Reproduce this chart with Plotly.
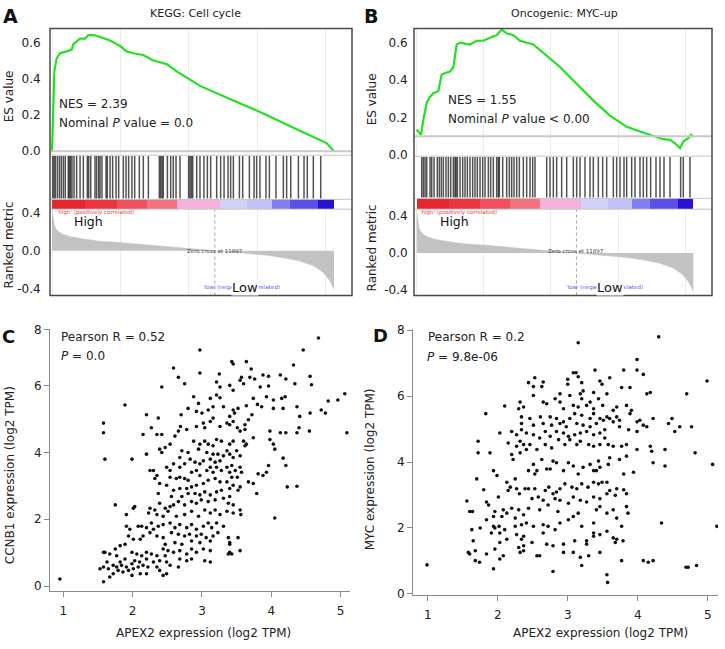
import plotly.graph_objects as go

W, H = 725, 649

# ---------------- GSEA data ----------------
n_genes = 20600
zero_cross = 11897

metric_rank = [0, 50, 170, 340, 700, 1300, 2300, 3500, 4700, 5950, 7150, 8400, 9600, 10800,
               11897, 13250, 14450, 15700, 16900, 18100, 19100, 19800, 20300, 20550, 20600]
metric_val = [0.42, 0.39, 0.27, 0.22, 0.18, 0.15, 0.125, 0.10, 0.09, 0.076, 0.063, 0.045, 0.028, 0.014,
              0.0, -0.014, -0.028, -0.049, -0.076, -0.11, -0.16, -0.23, -0.32, -0.41, -0.41]

es_rank_a = [0, 100, 170, 340, 580, 1070, 1440, 1560, 2050, 2410, 2650, 3020, 3500, 4240, 4970, 5450,
             5940, 6670, 7400, 7890, 8380, 9110, 10810, 13250, 15680, 17630, 19090, 19580, 20060, 20600]
es_val_a = [0.0, 0.26, 0.44, 0.51, 0.54, 0.55, 0.56, 0.59, 0.62, 0.62, 0.64, 0.64, 0.63, 0.61, 0.58, 0.55,
            0.54, 0.53, 0.50, 0.49, 0.48, 0.44, 0.36, 0.28, 0.20, 0.13, 0.08, 0.06, 0.045, 0.0]

es_rank_b = [0, 120, 320, 500, 750, 990, 1240, 1610, 1860, 2230, 2480, 2730, 2980, 3230, 3970, 4470,
             4960, 5590, 5960, 6330, 6700, 7200, 7690, 8690, 9680, 10670, 11910, 13160, 14400, 15640,
             16630, 17620, 18370, 18860, 19240, 19610, 19860, 20230, 20430, 20600]
es_val_b = [0.134, 0.125, 0.107, 0.19, 0.28, 0.31, 0.33, 0.34, 0.43, 0.44, 0.445, 0.47, 0.59, 0.60, 0.59, 0.61,
            0.61, 0.63, 0.64, 0.67, 0.65, 0.64, 0.61, 0.59, 0.53, 0.47, 0.38, 0.29, 0.21, 0.15,
            0.125, 0.10, 0.084, 0.08, 0.062, 0.036, 0.071, 0.089, 0.107, 0.098]
es_baseline_a = 0.0
es_baseline_b = 0.1

hits_a = [50, 150, 240, 390, 540, 680, 830, 970, 1190, 1270, 1360, 1460, 1610, 1800, 2050, 2290, 2580,
          2680, 2830, 3140, 3260, 3410, 3510, 3650, 3950, 4040, 4240, 4430, 4680, 4870, 5210, 5410, 5600,
          5840, 6040, 6380, 6670, 7040, 7840, 7940, 8040, 8130, 8430, 8670, 8860, 9060, 9350, 9980,
          10080, 10180, 10280, 10570, 10810, 11100, 11350, 11590, 12030, 12320, 12570, 12860, 13050,
          13250, 13690, 13930, 14420, 14760, 14950, 15190, 15630, 15880, 16360, 16900, 17140, 17440,
          18000, 18410, 18650, 19090, 19630]
hits_b = [372, 496, 621, 745, 993, 1117, 1291, 1539, 1688, 1837, 1986, 2184, 2358, 2532, 2730, 2854,
          2929, 3028, 3227, 3425, 3599, 3773, 3971, 4170, 4344, 4517, 4716, 4914, 5088, 5336, 5510,
          5709, 5957, 6081, 6155, 6404, 6701, 6900, 7074, 7247, 7446, 7645, 7942, 8191, 8439, 8637,
          8811, 9680, 9928, 10176, 10424, 10797, 11169, 11665, 11914, 12162, 12534, 12906, 13155,
          13527, 13850, 14148, 14644, 14892, 15140, 15438, 15637, 16009, 16257, 16629, 16878, 17126,
          17424, 17821, 18119, 18416, 18863, 19657, 19856, 20352]

cbar_edges = [0, 2400, 4750, 6950, 9150, 12250, 14250, 16050, 17400, 19450, 20600]
cbar_colors = ["#e5262f", "#ea3440", "#ee5060", "#f27280", "#f5b2dc", "#d2d2f8", "#c2c2f6",
               "#8080f0", "#5a4fe6", "#2a10d2"]

# ---------------- scatter data ----------------
c_x = [4.68, 2.97, 4.46, 4.32, 3.43, 3.45, 3.64, 3.71, 2.59, 2.97, 3.25, 2.66, 3.69, 3.88, 3.96, 4.13, 4.56,
       3.57, 3.76, 4.58, 4.34, 4.21, 3.96, 3.84, 3.40, 3.21, 3.26, 2.75, 2.42, 3.60, 3.55,
       2.88, 5.06, 4.82, 4.96, 3.12, 3.21, 3.26, 3.45, 3.74, 3.93, 4.03, 4.15, 4.20, 4.37, 4.72, 4.78,
       4.56, 4.41, 4.17, 4.03, 3.86, 3.80, 3.64, 3.52, 3.45, 3.31, 3.16, 3.09, 2.95, 2.80, 3.00, 2.92,
       2.70, 2.20, 1.89, 1.58, 1.58, 2.37, 2.35, 2.42, 2.15, 2.27, 2.61, 2.66, 2.69, 2.78, 2.92, 3.02,
       3.04, 3.12, 3.16, 3.26, 3.36, 3.40, 3.45, 3.51, 3.55, 3.62, 3.62, 3.67, 3.72, 3.47, 3.40, 3.74,
       3.60, 3.64, 3.98, 3.98, 4.03, 4.13, 4.21, 4.37, 4.40, 4.55, 4.05, 4.17, 4.21, 4.23, 4.37, 4.05,
       3.96, 3.93, 3.88, 3.81, 3.74, 3.79, 3.67, 3.62, 3.45, 3.40, 3.36, 3.28, 3.21, 3.16, 3.09, 3.04,
       2.97, 2.95, 2.88, 2.80, 2.71, 2.68, 2.54, 2.47, 2.39, 2.42, 2.20, 1.99, 1.60, 1.75, 3.07, 3.16,
       3.23, 3.31, 3.40, 3.50, 3.45, 3.55, 3.26, 3.19, 3.12, 3.02, 2.97, 2.90, 2.83, 2.75, 2.68, 2.59,
       2.54, 2.49, 2.30, 2.35, 2.32, 2.25, 2.39, 2.37, 2.49, 2.54, 2.63, 2.68, 2.75, 2.80, 2.85, 2.92,
       2.97, 3.07, 3.12, 3.16, 3.21, 3.28, 3.36, 3.43, 3.48, 3.40, 3.55, 3.57, 3.51, 3.43, 3.36, 3.26,
       3.19, 3.09, 3.02, 2.92, 2.85, 2.78, 2.68, 2.59, 2.56, 2.71, 2.80, 2.90, 2.97, 3.04, 3.12, 3.21,
       3.28, 3.40, 3.45, 3.52, 3.55, 3.40, 3.31, 3.19, 3.09, 2.99, 2.92, 2.85, 2.75, 2.66, 2.59, 2.54,
       2.47, 2.39, 2.32, 2.25, 2.01, 2.03, 2.23, 2.35, 2.44, 2.51, 2.63, 2.75, 2.85, 2.95, 3.04, 3.12,
       3.19, 3.26, 3.36, 3.45, 3.55, 3.56, 3.45, 3.38, 1.91, 1.91, 1.96, 2.08, 2.13, 2.20, 2.27, 2.30,
       2.37, 2.44, 2.54, 2.61, 2.68, 2.78, 2.85, 2.92, 3.02, 3.09, 3.14, 3.21, 3.31, 2.56, 2.66, 2.75,
       2.82, 2.92, 2.99, 3.06, 3.16, 3.23, 3.52, 3.40, 3.38, 3.12, 2.97, 2.85, 2.71, 2.61, 2.44, 2.47,
       2.35, 2.25, 2.15, 2.11, 2.01, 1.94, 1.89, 1.82, 1.75, 1.67, 1.60, 1.58, 1.77, 1.89, 1.82, 1.99,
       2.06, 2.13, 2.03, 2.10, 2.20, 2.20, 2.27, 2.35, 2.30, 2.39, 2.47, 2.49, 2.44, 2.51, 2.59, 2.68,
       2.78, 2.85, 2.92, 3.02, 3.12, 2.68, 2.78, 2.85, 2.54, 2.66, 3.04, 3.12, 3.40, 3.40, 3.38, 3.43,
       3.55, 1.63, 1.58, 1.65, 1.53, 1.72, 1.77, 1.84, 1.91, 1.99, 2.01, 2.08, 2.15, 2.22, 2.11, 2.20,
       2.35, 2.39, 2.44, 2.49, 1.94, 1.86, 1.79, 1.72, 1.58, 0.95, 1.99, 1.67, 5.09]
c_y = [7.43, 7.07, 7.07, 6.62, 6.72, 6.65, 6.72, 6.50, 6.53, 6.38, 6.35, 6.25, 6.25, 6.32, 6.28, 6.32, 6.28,
       6.25, 6.20, 6.03, 6.06, 6.20, 5.99, 5.96, 6.01, 6.11, 5.96, 6.06, 5.96, 6.06, 6.16,
       5.67, 5.76, 5.54, 5.57, 5.62, 5.72, 5.64, 5.86, 5.62, 5.67, 5.57, 5.62, 5.67, 5.37, 5.27, 5.18,
       5.18, 5.08, 5.32, 5.32, 5.37, 5.44, 5.40, 5.32, 5.27, 5.37, 5.37, 5.27, 5.47, 5.32, 5.18, 5.23,
       5.13, 5.13, 5.42, 4.88, 4.59, 5.03, 4.54, 4.54, 4.54, 4.74, 4.49, 4.64, 4.78, 4.69, 4.78, 4.88,
       4.74, 4.93, 5.03, 4.78, 4.88, 4.83, 4.93, 4.74, 4.64, 4.69, 4.83, 4.98, 5.13, 5.18, 5.08, 4.44,
       4.34, 4.25, 4.64, 4.39, 4.25, 4.59, 4.59, 4.59, 4.74, 4.64, 4.10, 3.83, 3.61, 2.97, 2.99, 2.04,
       3.61, 3.41, 3.31, 3.36, 3.07, 2.77, 3.12, 4.20, 4.34, 4.25, 4.05, 4.34, 4.39, 4.20, 4.25, 4.34,
       4.25, 4.10, 4.34, 4.00, 4.05, 3.85, 4.25, 4.15, 4.10, 4.00, 3.95, 3.80, 3.80, 2.43, 4.00, 3.95,
       3.95, 3.90, 3.95, 4.05, 3.85, 3.90, 3.75, 3.71, 3.80, 3.75, 3.66, 3.71, 3.80, 3.66, 3.56, 3.66,
       3.46, 3.56, 3.46, 3.31, 3.22, 3.46, 3.07, 2.77, 3.02, 3.26, 3.22, 3.26, 3.22, 3.17, 3.41, 3.46,
       3.31, 3.46, 3.56, 3.41, 3.56, 3.46, 3.56, 3.61, 3.46, 3.41, 3.56, 3.41, 3.26, 3.26, 3.12, 3.12,
       3.22, 3.17, 3.07, 3.02, 2.97, 2.92, 2.92, 2.87, 2.68, 2.68, 2.77, 2.77, 2.73, 2.82, 2.73, 2.82,
       2.87, 2.92, 3.02, 2.87, 2.97, 2.68, 2.63, 2.58, 2.53, 2.58, 2.48, 2.53, 2.43, 2.53, 2.43, 2.38,
       2.33, 2.48, 2.28, 2.33, 2.33, 2.38, 2.19, 2.14, 2.09, 2.24, 2.09, 2.14, 2.24, 2.09, 2.28, 2.19,
       2.28, 2.14, 2.24, 2.19, 2.28, 2.14, 2.43, 2.48, 2.14, 1.79, 1.70, 1.79, 1.79, 1.75, 1.89, 1.70,
       1.79, 1.84, 1.89, 1.75, 1.84, 1.75, 1.84, 1.70, 1.79, 1.89, 1.75, 1.89, 1.79, 1.60, 1.55, 1.50,
       1.55, 1.50, 1.55, 1.45, 1.50, 1.60, 1.45, 1.30, 1.45, 1.35, 1.30, 1.35, 1.25, 1.30, 1.45, 1.25,
       1.50, 1.60, 1.50, 1.40, 1.40, 1.50, 1.25, 1.21, 1.11, 0.96, 1.01, 1.01, 0.91, 0.81, 0.72, 1.01,
       0.96, 0.91, 0.76, 0.72, 0.81, 1.01, 0.96, 0.91, 0.72, 0.76, 0.91, 0.72, 1.11, 1.06, 1.01, 1.06,
       0.96, 1.11, 1.01, 1.11, 1.06, 0.81, 0.76, 0.81, 0.62, 0.57, 0.76, 0.72, 1.01, 1.25, 0.96, 0.96,
       1.06, 0.72, 0.57, 0.52, 0.52, 0.62, 0.57, 0.62, 0.57, 0.67, 0.52, 0.57, 0.62, 0.57, 0.37, 0.37,
       0.57, 0.47, 0.32, 0.37, 0.47, 0.42, 0.47, 0.37, 0.13, 0.21, 0.32, 0.27, 4.59]

d_x = [0.99, 4.30, 3.15, 3.99, 3.99, 4.08, 4.70, 4.99, 3.08, 3.12, 3.39, 3.15, 3.20, 3.00, 2.53, 2.65, 2.44,
       2.51, 2.63, 3.60, 3.46, 3.49, 3.77, 3.89, 4.13, 4.18, 3.80, 3.00, 2.89, 3.03, 3.18, 3.22, 3.37,
       3.56, 3.44, 3.32, 3.20, 2.82, 2.65, 2.51, 2.32, 2.30, 2.10, 1.83, 2.37, 2.70, 2.89, 2.94, 3.08,
       3.15, 3.27, 3.37, 3.50, 3.65, 3.70, 3.84, 3.91, 3.89, 3.70, 3.56, 3.46, 3.37, 3.32, 3.20, 3.10,
       3.03, 2.94, 2.84, 2.75, 2.61, 2.46, 2.34, 2.34, 2.51, 2.65, 2.77, 2.89, 2.98, 3.13, 3.22, 3.32,
       3.41, 3.51, 3.60, 3.65, 3.74, 3.99, 4.03, 4.08, 4.13, 4.22, 4.49, 4.44, 4.60, 4.53, 4.77, 3.99,
       3.87, 3.74, 3.53, 3.46, 3.37, 3.27, 3.18, 3.10, 3.01, 2.94, 2.84, 2.75, 2.68, 2.60, 2.51, 2.41,
       2.34, 2.27, 2.32, 2.37, 2.27, 2.32, 2.41, 2.46, 2.56, 2.68, 2.77, 2.87, 2.96, 3.03, 3.13, 3.18,
       3.30, 3.37, 3.46, 3.53, 3.58, 3.65, 3.77, 3.84, 3.99, 4.18, 4.20, 4.39, 4.82, 4.22, 4.39, 5.07,
       3.94, 3.80, 3.84, 3.74, 3.60, 3.58, 3.46, 3.44, 3.41, 3.37, 3.32, 3.22, 3.15, 3.08, 3.01, 2.94,
       2.84, 2.79, 2.75, 2.70, 2.63, 2.51, 2.53, 2.56, 2.44, 2.22, 2.20, 2.15, 2.20, 2.03, 1.99, 1.94,
       1.89, 1.72, 1.72, 1.70, 1.80, 2.13, 2.18, 2.15, 2.25, 2.27, 2.31, 2.39, 2.44, 2.53, 2.58, 2.68,
       2.73, 2.79, 2.84, 2.89, 2.96, 3.06, 3.13, 3.20, 3.29, 3.37, 3.44, 3.49, 3.56, 3.60, 3.70, 3.80,
       3.84, 3.68, 3.56, 3.46, 3.37, 3.27, 3.18, 3.08, 3.01, 2.89, 2.82, 2.72, 2.65, 2.60, 2.49, 2.44,
       2.37, 2.30, 2.25, 2.20, 2.13, 2.08, 2.06, 1.96, 1.94, 1.84, 1.87, 2.01, 1.56, 1.60, 1.64, 1.63,
       1.75, 1.84, 1.94, 1.96, 2.02, 1.91, 2.03, 2.10, 2.25, 2.34, 2.27, 2.41, 2.51, 2.65, 2.72, 2.82,
       2.89, 3.01, 3.08, 3.15, 3.20, 3.37, 3.41, 3.46, 3.56, 3.65, 3.70, 3.77, 3.86, 3.84, 3.27, 3.37,
       3.46, 3.56, 3.65, 3.70, 3.68, 3.79, 3.27, 3.10, 2.94, 2.79, 2.70, 2.65, 2.49, 2.37, 2.34, 2.37,
       2.30, 2.37, 2.32, 2.13, 2.03, 1.96, 2.08, 2.03, 1.84, 1.94, 1.65, 1.68, 1.58, 1.60, 1.68, 1.74,
       2.56, 2.60, 2.86, 2.94, 3.08, 3.20, 3.18, 3.30, 3.37, 3.46, 2.79, 3.56, 3.57, 3.77, 4.08, 4.15,
       4.22, 4.34, 4.69, 4.72, 4.84, 5.13]
d_y = [0.88, 7.80, 7.62, 7.11, 6.79, 6.66, 6.07, 6.46, 6.71, 6.71, 6.79, 6.59, 6.41, 6.51, 6.56, 6.43, 6.41,
       6.29, 6.29, 6.56, 6.46, 6.36, 6.26, 6.26, 6.07, 6.11, 6.79, 6.36, 6.07, 6.02, 6.07, 6.16, 6.11,
       6.07, 5.92, 5.82, 5.92, 5.92, 5.82, 6.02, 5.82, 5.62, 5.70, 5.47, 5.67, 5.77, 5.82, 5.62, 5.72,
       5.67, 5.72, 5.62, 5.72, 5.57, 5.67, 5.72, 5.57, 5.47, 5.37, 5.37, 5.32, 5.47, 5.32, 5.42, 5.47,
       5.32, 5.22, 5.32, 5.37, 5.37, 5.32, 5.37, 5.17, 5.12, 5.17, 5.12, 5.17, 5.07, 5.17, 5.12, 5.07,
       5.17, 5.27, 5.32, 5.22, 5.27, 5.22, 5.27, 5.12, 5.07, 5.32, 5.32, 5.17, 5.07, 4.93, 5.07, 4.93,
       4.98, 5.07, 4.98, 4.88, 4.83, 4.93, 4.88, 4.83, 4.78, 4.88, 4.93, 4.78, 4.93, 4.73, 4.83, 4.88,
       4.98, 4.83, 4.63, 4.53, 4.48, 4.28, 4.38, 4.53, 4.38, 4.53, 4.43, 4.68, 4.53, 4.68, 4.53, 4.63,
       4.53, 4.48, 4.53, 4.73, 4.53, 4.48, 4.48, 4.53, 4.38, 4.48, 4.33, 4.38, 4.28, 3.98, 3.88, 3.93,
       3.69, 3.64, 4.18, 4.08, 4.13, 3.93, 3.84, 4.03, 3.74, 3.74, 3.93, 3.84, 3.64, 3.88, 3.98, 3.74,
       3.98, 4.03, 3.79, 3.79, 4.08, 3.93, 3.64, 3.74, 3.74, 4.08, 4.23, 4.58, 4.93, 4.88, 3.59, 3.74,
       4.28, 4.63, 4.28, 3.49, 3.16, 3.39, 3.24, 3.14, 3.49, 3.19, 3.04, 3.19, 3.19, 3.19, 2.94, 3.14,
       3.24, 3.04, 3.09, 3.19, 3.34, 3.24, 3.19, 3.34, 3.24, 3.39, 3.34, 3.39, 3.39, 3.14, 3.19, 3.16,
       3.04, 2.99, 3.04, 2.89, 2.94, 2.79, 2.84, 2.94, 2.75, 2.84, 2.89, 2.70, 2.84, 2.55, 2.89, 2.60,
       2.40, 2.55, 2.30, 2.60, 2.45, 2.55, 2.35, 2.50, 2.35, 2.79, 2.70, 2.94, 2.82, 2.50, 2.50, 1.95,
       2.00, 2.25, 2.05, 2.00, 2.05, 1.85, 1.85, 1.95, 2.05, 2.10, 1.80, 2.15, 2.05, 2.10, 2.05, 1.95,
       2.15, 2.25, 2.35, 2.45, 2.05, 2.15, 2.55, 2.65, 2.45, 2.55, 2.30, 2.05, 2.45, 2.65, 1.51, 1.85,
       1.80, 1.90, 1.70, 1.66, 1.56, 1.61, 1.61, 1.61, 1.51, 1.46, 1.51, 1.85, 1.56, 1.75, 1.66, 1.46,
       1.41, 1.31, 1.26, 1.66, 1.56, 1.36, 1.16, 1.06, 1.21, 0.76, 1.61, 1.31, 1.26, 1.21, 1.01, 0.96,
       1.16, 1.16, 2.50, 1.26, 1.26, 0.86, 1.11, 1.16, 1.75, 1.26, 0.68, 0.58, 0.35, 1.01, 1.01, 0.96,
       1.01, 2.15, 0.81, 0.81, 0.86, 2.05]

c_xticks = [1, 2, 3, 4, 5]
c_yticks = [0, 2, 4, 6, 7.68]
c_yticktext = ["0", "2", "4", "6", "8"]
d_xticks = [1, 2, 3, 4, 5]
d_yticks = [0, 2, 4, 6, 8]

FONT = "DejaVu Sans"
TXT = "#222222"


def fx(p):
    return p / W


def fy(p):
    return 1 - p / H


fig = go.Figure()
layout = dict(width=W, height=H, margin=dict(l=0, r=0, t=0, b=0),
              paper_bgcolor="white", plot_bgcolor="rgba(0,0,0,0)", showlegend=False,
              font=dict(family=FONT, color=TXT, size=12))
shapes = []
annotations = []


def ann(text, x, y, size=12, color=TXT, xanchor="center", angle=0, bg=None):
    a = dict(text=text, x=fx(x), y=fy(y), xref="paper", yref="paper", showarrow=False,
             xanchor=xanchor, yanchor="middle", textangle=angle,
             font=dict(family=FONT, size=size, color=color))
    if bg:
        a["bgcolor"] = bg
        a["borderpad"] = 0
    annotations.append(a)


def gsea_panel(i0, left, right, x0px, x1px, rows, es_rank, es_val, es_base, hits, es_px0, es_scale,
               rk_px0, rk_scale, ticklen):
    es_top, es_bot, hits_bot, cbar_bot, rk_bot = rows
    per = n_genes / (x1px - x0px)
    xr = [(left - x0px) * per, (right - x0px) * per]
    dom_x = [fx(left), fx(right)]
    es_rng = [(es_px0 - es_bot) / es_scale, (es_px0 - es_top) / es_scale]
    rk_rng = [(rk_px0 - rk_bot) / rk_scale, (rk_px0 - cbar_bot) / rk_scale]
    doms = [[fy(es_bot), fy(es_top)], [fy(hits_bot), fy(es_bot)], [fy(cbar_bot), fy(hits_bot)],
            [fy(rk_bot), fy(cbar_bot)]]
    for k in range(4):
        i = i0 + k
        sx = "" if i == 1 else str(i)
        grid = k in (0, 3)
        layout["xaxis" + sx] = dict(domain=dom_x, range=xr, anchor="y" + sx, showticklabels=False,
                                    showgrid=grid, gridcolor="#ececec", gridwidth=1, tick0=0, dtick=5000,
                                    zeroline=False, showline=False, ticks="")
        yd = dict(domain=doms[k], anchor="x" + sx, showgrid=False, zeroline=False, showline=False,
                  fixedrange=True)
        if k == 0:
            yd.update(range=es_rng, tickvals=[0, 0.2, 0.4, 0.6], ticktext=["0.0", "0.2", "0.4", "0.6"],
                      ticks="outside", ticklen=ticklen, tickcolor="rgba(0,0,0,0)",
                      tickfont=dict(size=12, color=TXT))
        elif k == 3:
            yd.update(range=rk_rng, tickvals=[0.4, 0, -0.4], ticktext=["0.4", "0.0", "-0.4"],
                      ticks="outside", ticklen=ticklen, tickcolor="rgba(0,0,0,0)",
                      tickfont=dict(size=12, color=TXT))
        else:
            yd.update(range=[0, 1], showticklabels=False, ticks="")
        layout["yaxis" + sx] = yd

    s = ["" if i0 == 1 else str(i0)] + [str(i0 + k) for k in range(1, 4)]
    shapes.append(dict(type="line", xref="x%s domain" % s[0], yref="y" + s[0], x0=0, x1=1,
                       y0=es_base, y1=es_base, line=dict(color="#c8c8c8", width=2)))
    fig.add_trace(go.Scatter(x=es_rank, y=es_val, mode="lines", xaxis="x" + s[0], yaxis="y" + s[0],
                             line=dict(color="#22e022", width=2.2), hoverinfo="skip"))
    hx, hy = [], []
    for h in hits:
        hx += [h, h, None]
        hy += [0.02, 0.98, None]
    fig.add_trace(go.Scatter(x=hx, y=hy, mode="lines", xaxis="x" + s[1], yaxis="y" + s[1],
                             line=dict(color="rgba(0,0,0,0.68)", width=1.5), hoverinfo="skip"))
    cx = [(cbar_edges[j] + cbar_edges[j + 1]) / 2 for j in range(len(cbar_colors))]
    cw = [cbar_edges[j + 1] - cbar_edges[j] for j in range(len(cbar_colors))]
    fig.add_trace(go.Bar(x=cx, y=[1] * len(cx), width=cw, marker=dict(color=cbar_colors, line=dict(width=0)),
                         xaxis="x" + s[2], yaxis="y" + s[2], hoverinfo="skip"))
    fig.add_trace(go.Scatter(x=metric_rank, y=metric_val, mode="lines", fill="tozeroy",
                             fillcolor="#c2c2c2", line=dict(color="#c2c2c2", width=0.5),
                             xaxis="x" + s[3], yaxis="y" + s[3], hoverinfo="skip"))
    shapes.append(dict(type="line", xref="x" + s[3], yref="y%s domain" % s[3], x0=zero_cross, x1=zero_cross,
                       y0=0, y1=1, line=dict(color="#a0a0a0", width=1, dash="dot")))
    for yy in (es_bot, hits_bot, cbar_bot):
        shapes.append(dict(type="line", xref="paper", yref="paper", x0=fx(left), x1=fx(right),
                           y0=fy(yy), y1=fy(yy), line=dict(color="#c4c4c4", width=1)))
    shapes.append(dict(type="rect", xref="paper", yref="paper", x0=fx(left), x1=fx(right),
                       y0=fy(rk_bot), y1=fy(es_top), line=dict(color="#4a4a4a", width=1.5)))


gsea_panel(1, 50, 352, 52, 334, (23, 152, 197, 207, 295), es_rank_a, es_val_a, es_baseline_a, hits_a,
           148, 185, 249.3, 95.9, 6)
gsea_panel(5, 414, 712, 416.7, 693.3, (23, 153, 196, 207, 295), es_rank_b, es_val_b, es_baseline_b, hits_b,
           151.7, 190.6, 251.7, 94.6, 3)

ann("<b>A</b>", 10, 10, size=19, color="#111111")
ann("KEGG: Cell cycle", 196, 8, size=11)
ann("ES value", 9, 92, size=12, angle=-90)
ann("Ranked metric", 9, 244, size=12, angle=-90)
ann("NES = 2.39", 57, 100, size=12, xanchor="left")
ann("Nominal <i>P</i> value = 0.0", 57, 119, size=12, xanchor="left")
ann("'high' (positively correlated)", 55, 210, size=5.5, color="#f03a3a", xanchor="left")
ann("High", 88, 220, size=12.5, color="#111111")
ann("Zero cross at 11897", 215, 249.5, size=5.5, color="#444444")
ann("'low' (negatively correlated)", 241, 287, size=5.5, color="#5a5af0")
ann("Low", 245, 287, size=13, color="#111111", bg="white")

ann("<b>B</b>", 371, 10, size=19, color="#111111")
ann("Oncogenic: MYC-up", 564, 8, size=11)
ann("ES value", 372, 95, size=12, angle=-90)
ann("Ranked metric", 372, 247, size=12, angle=-90)
ann("NES = 1.55", 446, 96, size=12, xanchor="left")
ann("Nominal <i>P</i> value < 0.00", 446, 115, size=12, xanchor="left")
ann("'high' (positively correlated)", 418, 210, size=5.5, color="#f03a3a", xanchor="left")
ann("High", 454, 220, size=12.5, color="#111111")
ann("Zero cross at 11897", 576, 250, size=5.5, color="#444444")
ann("'low' (negatively correlated)", 604, 287, size=5.5, color="#5a5af0")
ann("Low", 610, 287, size=13, color="#111111", bg="white")


def scatter_panel(i, xs, ys, dom_px, xr, yr, xt, yt, ytt):
    sx = str(i)
    layout["xaxis" + sx] = dict(domain=[fx(dom_px[0]), fx(dom_px[1])], range=xr, anchor="y" + sx,
                                tickvals=xt, ticks="outside", ticklen=5, tickcolor="#8a8a8a",
                                ticklabelstandoff=4,
                                showline=True, linecolor="#8a8a8a", linewidth=1, showgrid=False,
                                zeroline=False, tickfont=dict(size=12, color=TXT))
    layout["yaxis" + sx] = dict(domain=[fy(dom_px[3]), fy(dom_px[2])], range=yr, anchor="x" + sx,
                                tickvals=yt, ticktext=ytt, ticks="outside", ticklen=5, tickcolor="#8a8a8a",
                                showline=True, linecolor="#8a8a8a", linewidth=1, showgrid=False,
                                zeroline=False, tickfont=dict(size=12, color=TXT))
    fig.add_trace(go.Scatter(x=xs, y=ys, mode="markers", xaxis="x" + sx, yaxis="y" + sx,
                             marker=dict(color="#111111", size=3.6, line=dict(width=0)), hoverinfo="skip"))


scatter_panel(9, c_x, c_y, (50, 350, 329, 596), [0.808, 5.135], [-0.147, 7.70], c_xticks, c_yticks, c_yticktext)
scatter_panel(10, d_x, d_y, (413, 718, 329, 600), [0.79, 5.147], [-0.03, 8.04], d_xticks, d_yticks,
              [str(v) for v in d_yticks])

ann("<b>C</b>", 8.5, 336.5, size=18, color="#111111")
ann("Pearson R = 0.52", 59, 337, size=12, xanchor="left")
ann("<i>P</i> = 0.0", 59, 357, size=12, xanchor="left")
ann("CCNB1 expression (log2 TPM)", 10, 478, size=12, angle=-90)
ann("APEX2 expression (log2 TPM)", 203, 639, size=12)

ann("<b>D</b>", 380.5, 336, size=18, color="#111111")
ann("Pearson R = 0.2", 426, 337, size=12, xanchor="left")
ann("<i>P</i> = 9.8e-06", 425, 358, size=12, xanchor="left")
ann("MYC expression (log2 TPM)", 370, 472, size=12, angle=-90)
ann("APEX2 expression (log2 TPM)", 600, 639, size=12)

layout["shapes"] = shapes
layout["annotations"] = annotations
layout["bargap"] = 0
fig.update_layout(**layout)
fig.write_html("out.html", config={"displayModeBar": False, "staticPlot": True},
               post_script="document.body.style.margin='0px';document.body.style.padding='0px';"
                           "document.body.style.overflow='hidden';")
